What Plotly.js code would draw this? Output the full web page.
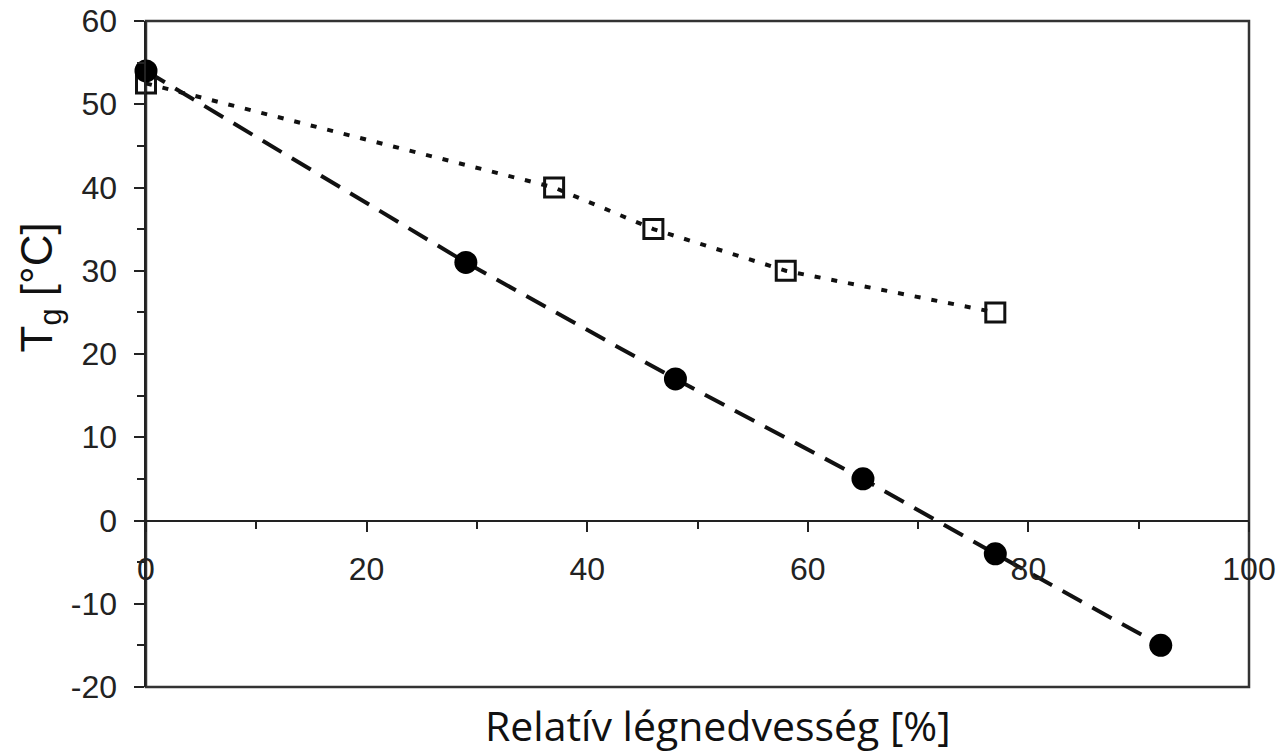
<!DOCTYPE html>
<html>
<head>
<meta charset="utf-8">
<script src="https://cdn.plot.ly/plotly-3.0.1.min.js"></script>
<style>html,body{margin:0;padding:0;background:#fff;}#chart{width:1280px;height:752px;}</style>
</head>
<body>
<div id="chart"></div>
<script>
// Relative humidity [%] and Tg [°C]
const circleRH = [0, 29, 48, 65, 77, 92];
const circleTg = [54, 31, 17, 5, -4, -15];
const squareRH = [0, 37, 46, 58, 77];
const squareTg = [52.5, 40, 35, 30, 25];
const xTicks = [0, 20, 40, 60, 80, 100];
const yTicks = [-20, -10, 0, 10, 20, 30, 40, 50, 60];

const traces = [
  {
    x: squareRH, y: squareTg, type: 'scatter', mode: 'lines+markers',
    line: {color: '#111', width: 4, dash: '6px,11px'},
    marker: {symbol: 'square-open', size: 19, color: '#111', line: {width: 3, color: '#111'}},
    cliponaxis: false, showlegend: false
  },
  {
    x: circleRH, y: circleTg, type: 'scatter', mode: 'lines+markers',
    line: {color: '#111', width: 4, dash: '22px,12px'},
    marker: {symbol: 'circle', size: 23, color: '#000'},
    cliponaxis: false, showlegend: false
  }
];

const tickFont = {size: 32, family: 'Liberation Sans, Arial, sans-serif', color: '#222'};

const layout = {
  width: 1280, height: 752,
  margin: {l: 146, r: 31, t: 21, b: 65},
  paper_bgcolor: '#fff', plot_bgcolor: '#fff',
  font: {family: 'Liberation Sans, Arial, sans-serif', color: '#222', size: 28},
  xaxis: {
    range: [0, 100], tickvals: xTicks, ticktext: xTicks.map(String),
    anchor: 'free', position: 0.25,
    showline: true, linecolor: '#222', linewidth: 2.5,
    ticks: 'outside', ticklen: 10, tickwidth: 2, tickcolor: '#222',
    minor: {dtick: 10, tick0: 0, ticks: 'outside', ticklen: 7, tickwidth: 2, tickcolor: '#222', showgrid: false},
    showgrid: false, zeroline: false,
    tickfont: tickFont,
    ticklabelstandoff: 10
  },
  yaxis: {
    range: [-20, 60], tickvals: yTicks, ticktext: yTicks.map(String),
    showline: true, linecolor: '#222', linewidth: 2.5,
    ticks: 'outside', ticklen: 10, tickwidth: 2, tickcolor: '#222',
    minor: {dtick: 5, tick0: 0, ticks: 'outside', ticklen: 7, tickwidth: 2, tickcolor: '#222', showgrid: false},
    showgrid: false, zeroline: false,
    tickfont: tickFont,
    ticklabelstandoff: 10
  },
  shapes: [
    {type: 'rect', xref: 'paper', yref: 'paper', x0: 0, x1: 1, y0: 0, y1: 1,
     line: {color: '#333', width: 2.5}, layer: 'below'}
  ],
  annotations: [
    {text: 'Relatív légnedvesség [%]', xref: 'paper', yref: 'paper', x: 0.5, y: 0,
     xanchor: 'center', yanchor: 'top', yshift: -8, xshift: 20, showarrow: false,
     font: {size: 41, family: 'Open Sans, Noto Sans, sans-serif', color: '#111'}},
    {text: 'T<sub>g</sub> [°C]', xref: 'paper', yref: 'paper', x: 0, y: 0.6,
     xanchor: 'center', yanchor: 'middle', xshift: -106, showarrow: false, textangle: -90,
     font: {size: 44, family: 'Liberation Sans, Arial, sans-serif', color: '#111'}}
  ]
};

Plotly.newPlot('chart', traces, layout, {displayModeBar: false, staticPlot: true});
</script>
</body>
</html>
